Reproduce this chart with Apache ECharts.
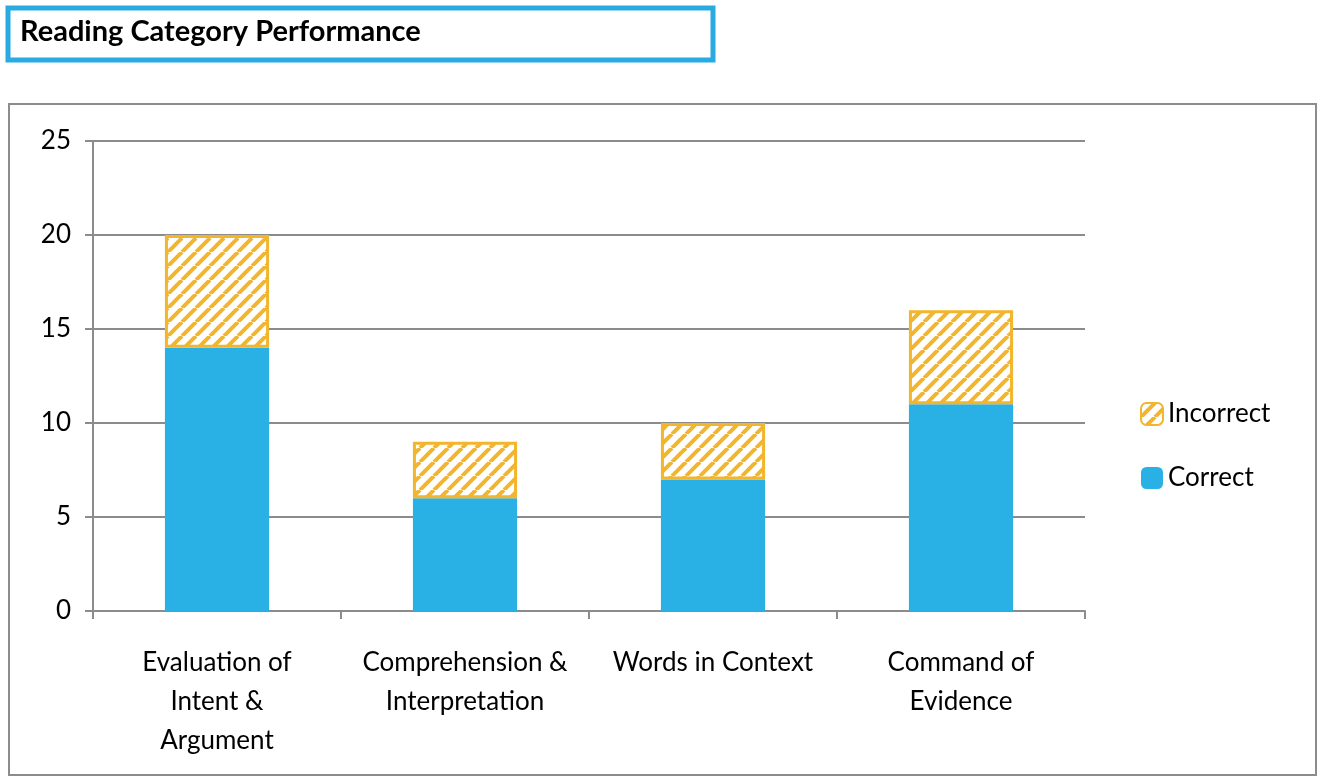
<!DOCTYPE html>
<html><head><meta charset="utf-8">
<script src="https://cdn.jsdelivr.net/npm/echarts@6/dist/echarts.min.js"></script>
<style>html,body{margin:0;padding:0;background:#fff}#c{width:1326px;height:784px}</style>
</head><body><div id="c"></div>
<script>
const categories = ["Evaluation of\nIntent &\nArgument", "Comprehension &\nInterpretation", "Words in Context", "Command of\nEvidence"];
const correct = [14, 6, 7, 11];
const incorrect = [6, 3, 3, 5];
const yTicks = [0, 5, 10, 15, 20, 25];

const cv = document.createElement('canvas');
cv.width = 14; cv.height = 14;
const g = cv.getContext('2d');
g.fillStyle = '#fff'; g.fillRect(0,0,14,14);
g.strokeStyle = '#F2B52B'; g.lineWidth = 4;
for (let k = -14; k <= 28; k += 14) { g.beginPath(); g.moveTo(k, 14); g.lineTo(k + 14, 0); g.stroke(); }

const chart = echarts.init(document.getElementById('c'));
const font = 'Lato, "Open Sans", sans-serif';
chart.setOption({
  animation: false,
  graphic: [
    {type:'rect', shape:{x:8,y:8,width:705,height:52}, style:{fill:'#fff', stroke:'#29ABE2', lineWidth:5}},
    {type:'text', left:20, top:17, style:{text:'Reading Category Performance', font:'bold 29px '+font, fill:'#000'}},
    {type:'rect', shape:{x:9,y:104,width:1307,height:671}, style:{fill:'none', stroke:'#8c8c8c', lineWidth:2}}
  ],
  grid: {left: 93, right: 241, top: 141, bottom: 173},
  legend: {
    data: ['Incorrect', 'Correct'], orient: 'vertical', left: 1135, top: 396,
    itemWidth: 22, itemHeight: 22, itemGap: 38,
    textStyle: {fontSize: 26, fontFamily: font, color: '#000'}
  },
  xAxis: {
    type: 'category', data: categories,
    axisLine: {lineStyle: {color: '#8c8c8c', width: 2}},
    axisTick: {show: true, length: 8, lineStyle: {color: '#8c8c8c', width: 2}},
    axisLabel: {fontSize: 26, fontFamily: font, color: '#000', margin: 32, lineHeight: 39, interval: 0}
  },
  yAxis: {
    type: 'value', min: 0, max: 25, interval: 5,
    axisLine: {show: true, lineStyle: {color: '#8c8c8c', width: 2}},
    axisTick: {show: true, length: 8, lineStyle: {color: '#8c8c8c', width: 2}},
    splitLine: {lineStyle: {color: '#8c8c8c', width: 2}},
    axisLabel: {fontSize: 26, fontFamily: font, color: '#000', margin: 22}
  },
  series: [
    {name: 'Correct', type: 'bar', stack: 's', data: correct, barWidth: '42%',
     itemStyle: {color: '#29B1E6'}},
    {name: 'Incorrect', type: 'bar', stack: 's', data: incorrect, barWidth: '42%',
     itemStyle: {color: {image: cv, repeat: 'repeat'}, borderColor: '#F2B52B', borderWidth: 3}}
  ]
});
</script></body></html>
